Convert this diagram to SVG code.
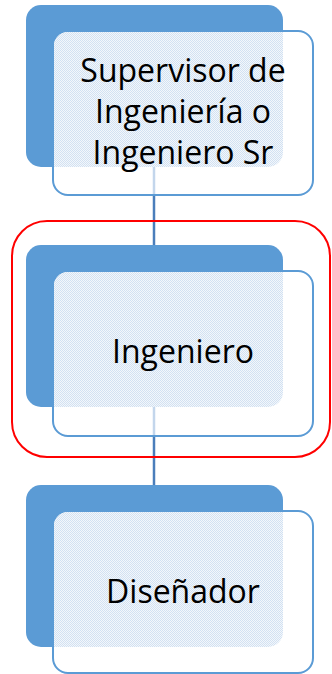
<svg xmlns="http://www.w3.org/2000/svg" width="332" height="674" viewBox="0 0 332 674">
<style>
.back{fill:#5b9bd5;}
.front{fill:#ffffff;stroke:#5b9bd5;stroke-width:2;}
.tint{fill:url(#dots);}
.lbl{font-family:"Open Sans","Liberation Sans",sans-serif;font-size:32px;fill:#000;text-anchor:middle;}
.conn{stroke:#4a7ebb;stroke-width:2.5;fill:none;}
.ghost{stroke:#c3d6ec;stroke-width:2.5;fill:none;}
.sel{fill:none;stroke:#ff0000;stroke-width:2;}
</style>
<defs>
<pattern id="dots" width="2" height="2" patternUnits="userSpaceOnUse">
<rect width="2" height="2" fill="#f3f7fb"/>
<rect width="1" height="1" fill="#d2e1f2"/>
<rect x="1" y="1" width="1" height="1" fill="#d2e1f2"/>
</pattern>
</defs>
<g id="connectors">
<line class="conn" x1="154" y1="195" x2="154" y2="245"/>
<line class="conn" x1="154" y1="436" x2="154" y2="485"/>
</g>
<g id="selection">
<rect class="sel" x="12" y="221" width="318" height="236" rx="35"/>
</g>
<g id="node1">
<rect class="back" x="26" y="5" width="257" height="162" rx="15"/>
<rect class="front" x="53" y="31" width="260" height="164" rx="15"/>
<path class="tint" d="M54 167 V46 A14 14 0 0 1 68 32 H283 V152 A15 15 0 0 1 268 167 Z"/>
<line class="ghost" x1="154" y1="167" x2="154" y2="194"/>
<text class="lbl" x="183" y="82">Supervisor de</text>
<text class="lbl" x="183" y="123">Ingeniería o</text>
<text class="lbl" x="183" y="164">Ingeniero Sr</text>
</g>
<g id="node2">
<rect class="back" x="26" y="245" width="257" height="162" rx="15"/>
<rect class="front" x="53" y="271" width="260" height="165" rx="15"/>
<path class="tint" d="M54 407 V286 A14 14 0 0 1 68 272 H283 V392 A15 15 0 0 1 268 407 Z"/>
<line class="ghost" x1="154" y1="407" x2="154" y2="435"/>
<text class="lbl" x="183" y="363">Ingeniero</text>
</g>
<g id="node3">
<rect class="back" x="26" y="485" width="257" height="162" rx="15"/>
<rect class="front" x="53" y="511" width="260" height="162" rx="15"/>
<path class="tint" d="M54 647 V526 A14 14 0 0 1 68 512 H283 V632 A15 15 0 0 1 268 647 Z"/>
<text class="lbl" x="183" y="603">Diseñador</text>
</g>
</svg>
